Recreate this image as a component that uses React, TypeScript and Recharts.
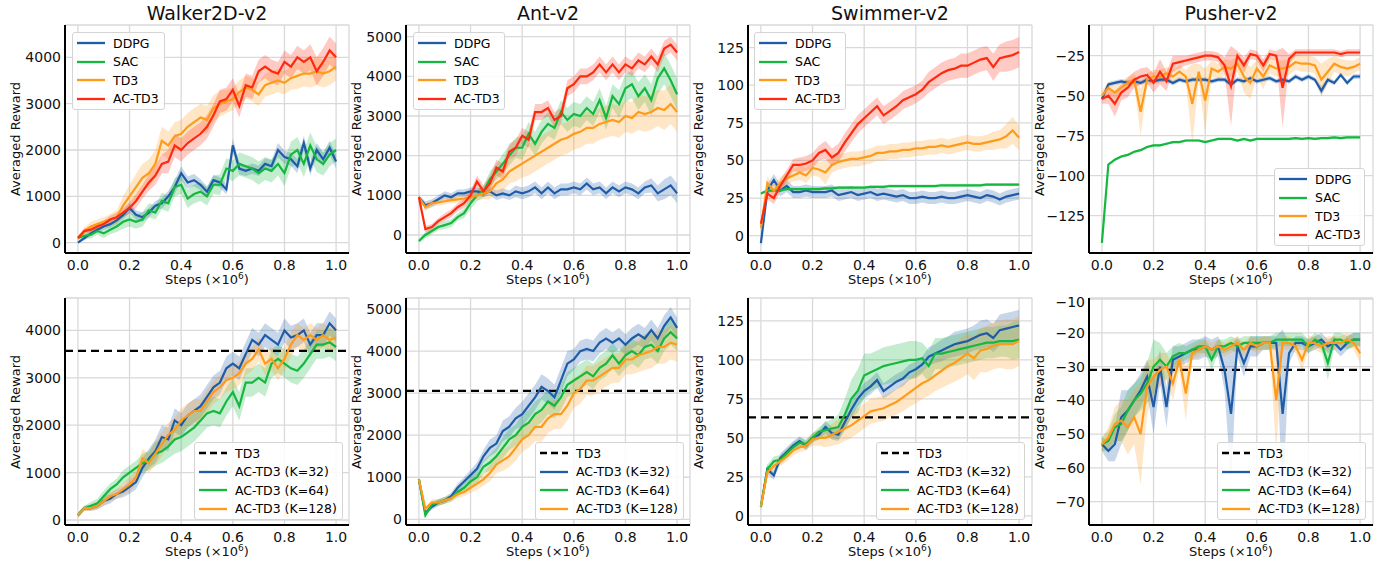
import React from 'react';
import {
  ComposedChart,
  Line,
  Area,
  XAxis,
  YAxis,
  CartesianGrid,
  ReferenceLine,
} from 'recharts';

// x positions (x10^6 steps), one sample every 0.025
const STEPS = Array.from({ length: 41 }, (_, i) => i * 0.025);
const X_TICKS = [0, 0.2, 0.4, 0.6, 0.8, 1.0];

const BLUE = '#1f5ca8';
const GREEN = '#14b83f';
const ORANGE = '#ff9b1a';
const RED = '#ff2a0e';

// ---------- top row: baselines vs AC-TD3 ----------
const walkerDdpg = [0, 100, 200, 280, 350, 400, 480, 600, 750, 600, 550, 650, 800, 850, 1000, 1200, 1500, 1300, 1350, 1250, 1100, 1350, 1300, 1150, 2100, 1600, 1550, 1600, 1550, 1700, 1650, 2000, 1850, 1800, 1650, 2150, 1600, 2000, 1800, 2050, 1750];
const walkerDdpgSd = [20, 50, 60, 60, 70, 80, 80, 90, 100, 100, 100, 100, 100, 110, 120, 150, 150, 130, 130, 120, 110, 110, 110, 110, 150, 130, 110, 110, 110, 120, 130, 150, 140, 140, 150, 160, 150, 150, 150, 150, 150];
const walkerSac = [100, 150, 170, 250, 200, 280, 350, 450, 500, 450, 500, 700, 650, 900, 850, 1200, 1250, 950, 1050, 1100, 1000, 1250, 1250, 1600, 1550, 1700, 1650, 1600, 1500, 1600, 1550, 1700, 1500, 1900, 2000, 1700, 2100, 1800, 1700, 1900, 2000];
const walkerSacSd = [40, 60, 80, 80, 100, 100, 120, 150, 150, 150, 150, 150, 150, 180, 180, 200, 200, 200, 200, 200, 200, 200, 220, 220, 220, 250, 250, 250, 250, 250, 250, 250, 280, 280, 280, 280, 280, 280, 250, 250, 250];
const walkerTd3 = [100, 250, 350, 400, 450, 500, 550, 800, 1000, 1200, 1400, 1500, 1700, 2200, 2100, 2300, 2350, 2500, 2600, 2700, 2650, 2900, 3000, 3050, 3100, 3250, 3350, 3300, 3200, 3400, 3450, 3500, 3450, 3550, 3600, 3650, 3650, 3700, 3650, 3700, 3800];
const walkerTd3Sd = [40, 80, 100, 100, 100, 120, 150, 200, 250, 280, 300, 300, 300, 300, 300, 300, 300, 300, 300, 300, 300, 280, 280, 250, 250, 250, 250, 250, 250, 250, 250, 250, 250, 250, 280, 280, 300, 300, 300, 300, 300];
const walkerAc = [100, 250, 280, 350, 400, 500, 550, 650, 750, 900, 1100, 1300, 1450, 1700, 1750, 2100, 2000, 2150, 2250, 2350, 2500, 2750, 3050, 3100, 3300, 2950, 3400, 3350, 3700, 3800, 3700, 3650, 3900, 3800, 4000, 3900, 4000, 3700, 3900, 4150, 4000];
const walkerAcSd = [40, 60, 60, 60, 80, 80, 100, 100, 120, 150, 150, 180, 200, 200, 250, 250, 250, 250, 250, 250, 250, 250, 250, 250, 250, 250, 250, 250, 250, 250, 250, 250, 250, 250, 250, 250, 280, 300, 300, 300, 300];

const antDdpg = [950, 750, 800, 900, 1000, 950, 1050, 1050, 1100, 1100, 1050, 1100, 1000, 1050, 1000, 1100, 1050, 1100, 1200, 1050, 1200, 1050, 1150, 1150, 1200, 1150, 1300, 1150, 1200, 1050, 1200, 1100, 1200, 1150, 1050, 1200, 1250, 1050, 1150, 1250, 1050];
const antDdpgSd = [50, 100, 100, 100, 100, 100, 100, 100, 100, 100, 100, 100, 120, 120, 120, 150, 150, 150, 150, 150, 150, 150, 150, 150, 150, 150, 150, 150, 150, 150, 150, 150, 150, 150, 150, 150, 180, 200, 250, 250, 250];
const antSac = [-150, 0, 100, 200, 250, 300, 450, 550, 800, 1000, 1100, 1400, 1600, 1800, 2000, 2200, 2200, 2550, 2300, 2600, 2800, 2700, 3100, 2900, 3050, 3000, 3200, 3050, 3400, 2950, 3500, 3300, 3700, 3800, 3500, 3700, 3400, 3950, 4200, 3900, 3550];
const antSacSd = [50, 80, 80, 80, 100, 100, 100, 120, 150, 150, 150, 200, 200, 250, 250, 250, 300, 300, 300, 300, 300, 300, 300, 300, 300, 300, 300, 300, 300, 300, 300, 350, 350, 350, 350, 350, 400, 400, 400, 400, 400];
const antTd3 = [950, 700, 800, 820, 850, 880, 900, 920, 950, 1000, 1050, 1100, 1300, 1400, 1600, 1700, 1800, 1900, 2000, 2100, 2200, 2300, 2400, 2450, 2550, 2600, 2700, 2700, 2800, 2850, 2900, 2850, 3000, 2950, 3100, 3050, 3100, 3200, 3150, 3300, 3100];
const antTd3Sd = [50, 100, 80, 80, 80, 80, 80, 100, 100, 120, 150, 200, 250, 300, 300, 350, 350, 400, 400, 400, 400, 400, 400, 400, 400, 400, 400, 400, 400, 400, 400, 400, 400, 400, 450, 450, 450, 450, 500, 500, 500];
const antAc = [950, 150, 200, 350, 450, 550, 700, 800, 1000, 1350, 1100, 1300, 1700, 1600, 2100, 2200, 2500, 2400, 3100, 3100, 3200, 2900, 3000, 3700, 3800, 4000, 4000, 4100, 4300, 4100, 4300, 4100, 4300, 4200, 4400, 4300, 4500, 4300, 4700, 4800, 4600];
const antAcSd = [50, 80, 80, 80, 100, 100, 100, 120, 120, 150, 150, 200, 200, 200, 200, 200, 200, 200, 200, 200, 200, 200, 200, 200, 200, 200, 200, 200, 200, 200, 200, 200, 200, 200, 200, 200, 200, 200, 200, 200, 200];

const swimDdpg = [-5, 30, 37, 30, 33, 29, 29, 30, 29, 29, 29, 30, 27, 28, 29, 27, 28, 29, 27, 28, 27, 26, 27, 25, 25, 26, 25, 25, 26, 25, 25, 26, 27, 26, 25, 27, 26, 24, 26, 27, 28];
const swimDdpgSd = [3, 4, 4, 4, 4, 4, 4, 4, 4, 4, 4, 4, 4, 4, 4, 4, 4, 4, 4, 4, 4, 4, 4, 4, 4, 4, 4, 4, 4, 4, 4, 4, 4, 4, 4, 4, 4, 4, 4, 4, 4];
const swimSac = [28, 30, 30, 30, 31, 31, 31, 31, 31, 31, 31.5, 31.5, 32, 32, 32, 32, 32, 32.5, 32.5, 32.5, 33, 33, 33, 33, 33, 33, 33, 33, 33.5, 33.5, 33.5, 33.5, 33.5, 33.5, 33.5, 34, 34, 34, 34, 34, 34];
const swimSacSd = [1, 1, 1, 1, 1, 1, 1, 1, 1, 1, 1, 1, 1, 1, 1, 1, 1, 1, 1, 1, 1, 1, 1, 1, 1, 1, 1, 1, 1, 1, 1, 1, 1, 1, 1, 1, 1, 1, 1, 1, 1];
const swimTd3 = [5, 35, 30, 35, 38, 40, 42, 40, 45, 44, 42, 47, 49, 50, 51, 51, 52, 53, 55, 55, 56, 56, 57, 57, 58, 58, 59, 59, 60, 59, 60, 61, 62, 61, 61, 62, 63, 64, 66, 70, 65];
const swimTd3Sd = [3, 4, 4, 4, 4, 4, 5, 5, 5, 5, 8, 5, 5, 5, 5, 5, 5, 5, 5, 5, 5, 5, 5, 5, 5, 5, 5, 5, 5, 5, 5, 5, 5, 5, 5, 5, 6, 6, 8, 9, 8];
const swimAc = [8, 28, 25, 33, 40, 47, 47, 48, 50, 55, 57, 52, 55, 62, 68, 74, 78, 82, 86, 80, 83, 86, 90, 92, 94, 97, 102, 105, 108, 110, 111, 113, 113, 115, 117, 118, 112, 118, 119, 120, 122];
const swimAcSd = [3, 4, 4, 4, 4, 4, 5, 5, 5, 5, 6, 6, 6, 6, 6, 6, 6, 6, 6, 6, 6, 6, 6, 6, 6, 6, 7, 7, 7, 7, 7, 8, 8, 8, 8, 8, 9, 9, 10, 10, 10];

const pushDdpg = [-52, -43, -42, -41, -42, -41, -42, -40, -41, -40, -40, -42, -40, -41, -40, -40, -40, -41, -40, -40, -43, -40, -41, -39, -41, -40, -39, -41, -40, -41, -38, -40, -38, -40, -47, -40, -42, -37, -42, -38, -38];
const pushDdpgSd = [1.5, 1.5, 1.5, 1.5, 1.5, 1.5, 1.5, 1.5, 1.5, 1.5, 1.5, 1.5, 1.5, 1.5, 1.5, 1.5, 1.5, 1.5, 1.5, 1.5, 1.5, 1.5, 1.5, 1.5, 1.5, 1.5, 1.5, 1.5, 1.5, 1.5, 1.5, 1.5, 1.5, 1.5, 3, 1.5, 1.5, 1.5, 1.5, 1.5, 1.5];
const pushSac = [-142, -93, -90, -88, -87, -85, -84, -82, -81, -81, -80, -79, -79, -78, -78, -78, -79, -78, -77, -77, -77, -78, -77, -78, -77, -77, -77, -77, -77, -77, -76.5, -77, -76.5, -77, -76.5, -76.5, -76, -76.5, -76, -76, -76];
const pushSacSd = [0.8, 0.8, 0.8, 0.8, 0.8, 0.8, 0.8, 0.8, 0.8, 0.8, 0.8, 0.8, 0.8, 0.8, 0.8, 0.8, 0.8, 0.8, 0.8, 0.8, 0.8, 0.8, 0.8, 0.8, 0.8, 0.8, 0.8, 0.8, 0.8, 0.8, 0.8, 0.8, 0.8, 0.8, 0.8, 0.8, 0.8, 0.8, 0.8, 0.8, 0.8];
const pushTd3 = [-50, -45, -48, -45, -42, -40, -60, -40, -38, -38, -36, -38, -35, -38, -55, -35, -53, -33, -35, -32, -33, -30, -38, -42, -33, -38, -31, -33, -33, -32, -29, -30, -30, -31, -40, -35, -30, -32, -33, -32, -30];
const pushTd3Sd = [3, 4, 4, 4, 4, 4, 15, 4, 4, 4, 4, 4, 4, 4, 25, 5, 20, 5, 5, 5, 5, 5, 10, 10, 5, 8, 5, 5, 5, 5, 5, 5, 5, 5, 10, 8, 5, 5, 5, 4, 4];
const pushAc = [-52, -50, -55, -48, -45, -40, -38, -37, -42, -35, -41, -30, -29, -28, -27, -26, -25, -25, -26, -31, -44, -25, -31, -24, -25, -31, -24, -25, -45, -27, -23, -23, -23, -23, -23, -23, -23, -24, -23, -23, -23];
const pushAcSd = [3, 5, 8, 5, 6, 5, 5, 5, 6, 8, 6, 5, 4, 3, 3, 3, 3, 3, 3, 5, 25, 3, 5, 3, 3, 4, 3, 3, 25, 3, 2, 2, 2, 2, 2, 2, 2, 2, 2, 2, 2];

// ---------- bottom row: AC-TD3 with different K ----------
const walkerK32 = [100, 250, 250, 300, 400, 450, 550, 600, 700, 800, 1100, 1300, 1450, 1750, 1700, 2100, 2000, 2200, 2300, 2400, 2600, 2800, 2900, 3200, 3300, 3200, 3500, 3800, 3700, 3900, 3800, 3700, 4000, 3850, 3900, 4000, 3700, 3900, 3900, 4150, 4000];
const walkerK32Sd = [50, 50, 60, 80, 100, 100, 100, 120, 150, 150, 200, 200, 250, 250, 250, 250, 250, 250, 250, 250, 250, 250, 250, 250, 250, 250, 250, 250, 250, 250, 250, 250, 250, 250, 250, 250, 250, 250, 250, 250, 250];
const walkerK64 = [100, 250, 300, 350, 500, 650, 750, 900, 1000, 1100, 1200, 1250, 1400, 1450, 1550, 1700, 1750, 1850, 1950, 2100, 2250, 2300, 2250, 2500, 2700, 2400, 2900, 2900, 3000, 2900, 3300, 3400, 3300, 3200, 3150, 3300, 3500, 3700, 3700, 3750, 3650];
const walkerK64Sd = [50, 50, 80, 100, 120, 120, 120, 150, 150, 150, 200, 200, 250, 250, 250, 300, 300, 300, 300, 300, 300, 300, 300, 300, 300, 300, 300, 300, 300, 300, 300, 300, 300, 300, 300, 300, 300, 300, 300, 300, 300];
const walkerK128 = [100, 250, 250, 300, 400, 500, 550, 650, 750, 900, 1300, 1200, 1400, 1600, 1800, 1900, 2100, 2200, 2300, 2300, 2500, 2700, 2800, 2950, 3000, 3100, 3300, 3400, 3600, 3300, 3400, 3200, 3400, 3700, 3900, 3800, 3900, 3800, 3900, 3800, 3850];
const walkerK128Sd = [50, 50, 60, 80, 100, 100, 100, 120, 150, 150, 200, 200, 250, 250, 250, 250, 250, 250, 250, 250, 250, 250, 250, 250, 250, 250, 250, 250, 250, 250, 250, 250, 250, 250, 250, 250, 250, 250, 250, 250, 250];

const antK32 = [950, 150, 300, 400, 450, 550, 750, 900, 1050, 1200, 1500, 1700, 1800, 2100, 2200, 2400, 2500, 2700, 2900, 3150, 3050, 2900, 3300, 3700, 3800, 4000, 4050, 4000, 4200, 4300, 4200, 4300, 4150, 4300, 4400, 4300, 4500, 4300, 4600, 4800, 4550];
const antK32Sd = [50, 50, 80, 80, 80, 80, 100, 100, 120, 150, 150, 200, 200, 250, 250, 250, 300, 300, 300, 300, 300, 300, 300, 300, 250, 250, 250, 250, 250, 250, 250, 250, 250, 250, 250, 250, 250, 250, 250, 250, 250];
const antK64 = [950, 100, 350, 400, 450, 500, 650, 750, 900, 1000, 1250, 1350, 1500, 1700, 1900, 2000, 2200, 2300, 2500, 2600, 2800, 2700, 2900, 3200, 3300, 3400, 3500, 3400, 3600, 3700, 3900, 3700, 3900, 4000, 3900, 4100, 4150, 4000, 4300, 4450, 4300];
const antK64Sd = [50, 50, 80, 80, 80, 80, 100, 100, 120, 150, 150, 200, 200, 250, 250, 250, 300, 300, 300, 300, 300, 300, 300, 300, 300, 300, 300, 300, 300, 300, 300, 300, 300, 300, 300, 300, 300, 300, 300, 300, 300];
const antK128 = [950, 250, 400, 400, 450, 500, 600, 650, 750, 850, 950, 1100, 1300, 1400, 1500, 1700, 1900, 2000, 2200, 2200, 2400, 2500, 2500, 2700, 3000, 3100, 3300, 3300, 3400, 3500, 3600, 3600, 3800, 3800, 3900, 3950, 4000, 4100, 4100, 4200, 4150];
const antK128Sd = [50, 50, 80, 80, 80, 80, 100, 100, 120, 150, 150, 200, 200, 250, 250, 300, 300, 300, 350, 350, 350, 350, 350, 350, 350, 350, 350, 350, 350, 350, 350, 350, 350, 350, 400, 400, 400, 400, 400, 400, 400];

const swimK32 = [6, 30, 26, 37, 41, 45, 48, 45, 50, 52, 57, 53, 52, 60, 68, 75, 80, 83, 87, 80, 83, 86, 88, 92, 94, 97, 102, 104, 106, 108, 110, 111, 112, 114, 116, 117, 114, 119, 120, 121, 122];
const swimK32Sd = [2, 3, 3, 3, 3, 3, 3, 3, 3, 3, 4, 4, 4, 5, 5, 5, 5, 5, 5, 5, 5, 5, 5, 5, 5, 5, 6, 6, 7, 7, 8, 8, 8, 8, 9, 9, 9, 10, 10, 10, 10];
const swimK64 = [6, 30, 35, 36, 40, 44, 47, 46, 50, 54, 55, 56, 57, 65, 75, 80, 90, 92, 94, 96, 97, 98, 99, 100, 100, 101, 96, 104, 104, 105, 106, 107, 108, 109, 110, 111, 111, 112, 112, 112, 113];
const swimK64Sd = [2, 3, 3, 3, 3, 3, 3, 3, 3, 3, 5, 6, 8, 10, 12, 14, 14, 12, 12, 12, 12, 12, 12, 12, 12, 10, 10, 10, 10, 10, 10, 10, 10, 10, 10, 10, 10, 10, 10, 12, 12];
const swimK128 = [6, 28, 32, 35, 38, 42, 44, 45, 49, 50, 50, 52, 54, 56, 58, 61, 64, 67, 68, 69, 71, 73, 76, 79, 82, 85, 87, 90, 93, 96, 98, 101, 104, 101, 106, 107, 109, 110, 110, 110, 112];
const swimK128Sd = [2, 3, 3, 3, 3, 3, 3, 3, 4, 5, 6, 7, 8, 8, 8, 8, 8, 8, 8, 8, 8, 8, 9, 9, 10, 10, 10, 10, 11, 12, 12, 13, 13, 14, 14, 15, 15, 15, 16, 16, 16];

const pushK32 = [-53, -55, -53, -45, -43, -40, -37, -33, -42, -30, -42, -28, -27, -26, -25, -25, -24, -25, -24, -31, -44, -24, -29, -24, -24, -23, -23, -23, -44, -26, -23, -23, -24, -23, -22, -24, -23, -25, -23, -22, -22];
const pushK32Sd = [2, 3, 5, 8, 6, 5, 5, 5, 8, 5, 6, 4, 3, 3, 3, 3, 3, 3, 3, 6, 20, 3, 4, 3, 3, 2, 2, 2, 25, 3, 2, 2, 2, 2, 2, 2, 2, 2, 2, 2, 2];
const pushK64 = [-53, -52, -48, -47, -43, -40, -38, -35, -30, -28, -30, -27, -26, -26, -25, -24, -24, -28, -24, -24, -23, -24, -23, -23, -23, -23, -23, -22, -22, -22, -22, -22, -24, -22, -23, -29, -22, -22, -23, -22, -22];
const pushK64Sd = [2, 3, 4, 5, 6, 5, 5, 6, 8, 5, 4, 3, 3, 2, 2, 2, 2, 3, 2, 2, 2, 2, 2, 2, 2, 2, 2, 2, 2, 2, 2, 2, 2, 2, 2, 5, 2, 2, 2, 2, 2];
const pushK128 = [-53, -51, -47, -46, -48, -45, -50, -36, -33, -31, -30, -35, -28, -38, -26, -25, -24, -25, -24, -25, -24, -23, -25, -23, -24, -23, -23, -40, -23, -23, -24, -28, -23, -23, -24, -23, -23, -23, -22, -23, -26];
const pushK128Sd = [2, 3, 5, 6, 8, 8, 15, 8, 5, 5, 4, 5, 3, 8, 2, 2, 2, 2, 2, 2, 2, 2, 2, 2, 2, 2, 2, 15, 2, 2, 2, 3, 2, 2, 2, 2, 2, 2, 2, 2, 3];

// TD3 reference levels for the bottom row
const td3Levels = [3570, 3056, 63.2, -31];

const TOP_NAMES = ['DDPG', 'SAC', 'TD3', 'AC-TD3'];
const TOP_COLORS = [BLUE, GREEN, ORANGE, RED];
const BOTTOM_NAMES = ['AC-TD3 (K=32)', 'AC-TD3 (K=64)', 'AC-TD3 (K=128)'];
const BOTTOM_COLORS = [BLUE, GREEN, ORANGE];

type Series = { name: string; color: string; values: number[]; sd: number[] };
type PanelDef = {
  title?: string;
  x: number;
  y: number;
  h: number;
  yDomain: [number, number];
  yTicks: number[];
  series: Series[];
  td3?: number;
  legend: { left: number; top: number; width: number };
};

const mk = (names: string[], colors: string[], vals: number[][], sds: number[][]): Series[] =>
  names.map((name, i) => ({ name, color: colors[i], values: vals[i], sd: sds[i] }));

const PLOT_W = 284;
const Y_AXIS_W = 60;
const X_AXIS_H = 30;
const PAD = 4;

const panels: PanelDef[] = [
  {
    title: 'Walker2D-v2', x: 65, y: 25, h: 228, yDomain: [-223, 4698], yTicks: [0, 1000, 2000, 3000, 4000],
    series: mk(TOP_NAMES, TOP_COLORS, [walkerDdpg, walkerSac, walkerTd3, walkerAc], [walkerDdpgSd, walkerSacSd, walkerTd3Sd, walkerAcSd]),
    legend: { left: 72, top: 32, width: 93 },
  },
  {
    title: 'Ant-v2', x: 406, y: 25, h: 228, yDomain: [-454, 5294], yTicks: [0, 1000, 2000, 3000, 4000, 5000],
    series: mk(TOP_NAMES, TOP_COLORS, [antDdpg, antSac, antTd3, antAc], [antDdpgSd, antSacSd, antTd3Sd, antAcSd]),
    legend: { left: 413, top: 32, width: 92 },
  },
  {
    title: 'Swimmer-v2', x: 748, y: 25, h: 228, yDomain: [-11.5, 140], yTicks: [0, 25, 50, 75, 100, 125],
    series: mk(TOP_NAMES, TOP_COLORS, [swimDdpg, swimSac, swimTd3, swimAc], [swimDdpgSd, swimSacSd, swimTd3Sd, swimAcSd]),
    legend: { left: 754, top: 32, width: 92 },
  },
  {
    title: 'Pusher-v2', x: 1089, y: 25, h: 228, yDomain: [-148.3, -5.8], yTicks: [-125, -100, -75, -50, -25],
    series: mk(TOP_NAMES, TOP_COLORS, [pushDdpg, pushSac, pushTd3, pushAc], [pushDdpgSd, pushSacSd, pushTd3Sd, pushAcSd]),
    legend: { left: 1274, top: 168, width: 91 },
  },
  {
    x: 65, y: 298, h: 227, yDomain: [-106, 4684], yTicks: [0, 1000, 2000, 3000, 4000],
    series: mk(BOTTOM_NAMES, BOTTOM_COLORS, [walkerK32, walkerK64, walkerK128], [walkerK32Sd, walkerK64Sd, walkerK128Sd]),
    td3: td3Levels[0],
    legend: { left: 194, top: 442, width: 149 },
  },
  {
    x: 406, y: 298, h: 227, yDomain: [-135, 5262], yTicks: [0, 1000, 2000, 3000, 4000, 5000],
    series: mk(BOTTOM_NAMES, BOTTOM_COLORS, [antK32, antK64, antK128], [antK32Sd, antK64Sd, antK128Sd]),
    td3: td3Levels[1],
    legend: { left: 535, top: 442, width: 149 },
  },
  {
    x: 748, y: 298, h: 227, yDomain: [-5.8, 139.6], yTicks: [0, 25, 50, 75, 100, 125],
    series: mk(BOTTOM_NAMES, BOTTOM_COLORS, [swimK32, swimK64, swimK128], [swimK32Sd, swimK64Sd, swimK128Sd]),
    td3: td3Levels[2],
    legend: { left: 876, top: 442, width: 149 },
  },
  {
    x: 1089, y: 298, h: 227, yDomain: [-76.9, -9.7], yTicks: [-70, -60, -50, -40, -30, -20, -10],
    series: mk(BOTTOM_NAMES, BOTTOM_COLORS, [pushK32, pushK64, pushK128], [pushK32Sd, pushK64Sd, pushK128Sd]),
    td3: td3Levels[3],
    legend: { left: 1217, top: 442, width: 149 },
  },
];

const FONT = '"DejaVu Sans", sans-serif';

function buildRows(series: Series[]) {
  return STEPS.map((x, i) => {
    const row: Record<string, any> = { x };
    series.forEach((s, k) => {
      row['s' + k] = s.values[i];
      row['b' + k] = [s.values[i] - s.sd[i], s.values[i] + s.sd[i]];
    });
    return row;
  });
}

const minus = (v: number) => String(v).replace('-', '\u2212');

function LegendBox({ p }: { p: PanelDef }) {
  const items: { name: string; color: string; dashed?: boolean }[] = [];
  if (p.td3 !== undefined) items.push({ name: 'TD3', color: '#000', dashed: true });
  p.series.forEach((s) => items.push({ name: s.name, color: s.color }));
  return (
    <div
      style={{
        position: 'absolute', left: p.legend.left, top: p.legend.top, width: p.legend.width,
        boxSizing: 'border-box', border: '1px solid #d4d4d4', borderRadius: 3,
        background: 'rgba(255,255,255,0.85)', padding: '1px 0 1px 4px', fontSize: 12.5, fontFamily: FONT,
      }}
    >
      {items.map((it) => (
        <div key={it.name} style={{ display: 'flex', alignItems: 'center', height: 18.5, whiteSpace: 'nowrap' }}>
          <svg width={28} height={4} style={{ marginRight: 8 }}>
            <line x1={0} y1={2} x2={28} y2={2} stroke={it.color} strokeWidth={2.3} strokeDasharray={it.dashed ? '7 4' : undefined} />
          </svg>
          <span>{it.name}</span>
        </div>
      ))}
    </div>
  );
}

function Panel({ p }: { p: PanelDef }) {
  const data = buildRows(p.series);
  return (
    <>
      <div style={{ position: 'absolute', left: p.x - Y_AXIS_W, top: p.y - PAD }}>
        <ComposedChart
          width={Y_AXIS_W + PLOT_W + PAD}
          height={PAD + p.h + X_AXIS_H}
          data={data}
          margin={{ top: PAD, right: PAD, bottom: 0, left: 0 }}
        >
          <CartesianGrid stroke="#d9d9d9" strokeWidth={1.3} />
          <XAxis
            dataKey="x"
            type="number"
            domain={[-0.05, 1.05]}
            ticks={X_TICKS}
            allowDataOverflow
            tickFormatter={(v) => Number(v).toFixed(1)}
            axisLine={{ stroke: '#000', strokeWidth: 2 }}
            tickLine={false}
            tickSize={0}
            tickMargin={7}
            height={X_AXIS_H}
            tick={{ fill: '#111', fontSize: 14, fontFamily: FONT }}
          />
          <YAxis
            type="number"
            domain={p.yDomain}
            ticks={p.yTicks}
            allowDataOverflow
            tickFormatter={minus}
            axisLine={{ stroke: '#000', strokeWidth: 2 }}
            tickLine={false}
            tickSize={0}
            tickMargin={4}
            width={Y_AXIS_W}
            tick={{ fill: '#111', fontSize: 14, fontFamily: FONT }}
          />
          {p.series.map((s, k) => (
            <Area
              key={'b' + k}
              dataKey={'b' + k}
              type="linear"
              fill={s.color}
              fillOpacity={0.25}
              stroke="none"
              isAnimationActive={false}
            />
          ))}
          {p.td3 !== undefined && (
            <ReferenceLine y={p.td3} stroke="#000" strokeWidth={2.2} strokeDasharray="8 5" />
          )}
          {p.series.map((s, k) => (
            <Line
              key={'s' + k}
              dataKey={'s' + k}
              type="linear"
              stroke={s.color}
              strokeWidth={2.2}
              dot={false}
              isAnimationActive={false}
            />
          ))}
        </ComposedChart>
      </div>
      {p.title && (
        <div
          style={{
            position: 'absolute', left: p.x, width: PLOT_W, top: 4, textAlign: 'center',
            fontSize: 19, lineHeight: '19px', fontFamily: FONT, color: '#111',
          }}
        >
          {p.title}
        </div>
      )}
      <div
        style={{
          position: 'absolute', left: p.x - 50, top: p.y + p.h / 2,
          transform: 'translate(-50%, -50%) rotate(-90deg)', whiteSpace: 'nowrap',
          fontSize: 13, lineHeight: '13px', fontFamily: FONT, color: '#111',
        }}
      >
        Averaged Reward
      </div>
      <div
        style={{
          position: 'absolute', left: p.x, width: PLOT_W, top: p.y + p.h + 20, textAlign: 'center',
          fontSize: 13, lineHeight: '13px', fontFamily: FONT, color: '#111', whiteSpace: 'nowrap',
        }}
      >
        Steps (×10<sup style={{ fontSize: 9, lineHeight: 0 }}>6</sup>)
      </div>
      <LegendBox p={p} />
    </>
  );
}

export default function App() {
  return (
    <div
      style={{
        position: 'absolute', left: 0, top: 0, width: 1396, height: 567,
        background: '#fff', overflow: 'hidden', fontFamily: FONT,
      }}
    >
      {panels.map((p, i) => (
        <Panel key={i} p={p} />
      ))}
    </div>
  );
}
